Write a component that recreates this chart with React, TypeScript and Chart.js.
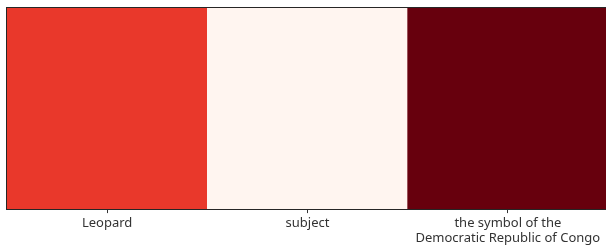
import React, { useEffect, useRef } from "react";
import { Chart, registerables } from "chart.js";

Chart.register(...registerables);

const categories: (string | string[])[] = [
  "Leopard",
  "subject",
  ["the symbol of the", "Democratic Republic of Congo"],
];
const values = [1, 1, 1];
const cellColors = ["#e9382b", "#fff5f0", "#67000d"];

const frame = {
  id: "frame",
  afterDatasetsDraw(chart: any) {
    const { ctx, chartArea } = chart;
    ctx.save();
    ctx.strokeStyle = "#262626";
    ctx.lineWidth = 1;
    ctx.strokeRect(
      Math.round(chartArea.left) - 0.5,
      Math.round(chartArea.top) - 0.5,
      Math.round(chartArea.right - chartArea.left) + 1,
      Math.round(chartArea.bottom - chartArea.top) + 1
    );
    ctx.restore();
  },
};

export default function App() {
  const ref = useRef<HTMLCanvasElement>(null);
  useEffect(() => {
    document.body.style.margin = "0";
    const chart = new Chart(ref.current!, {
      type: "bar",
      data: {
        labels: categories as any,
        datasets: [
          {
            data: values,
            backgroundColor: cellColors,
            borderWidth: 0,
            barPercentage: 1,
            categoryPercentage: 1,
          },
        ],
      },
      options: {
        responsive: false,
        animation: false,
        events: [],
        layout: { padding: { left: 7, top: 8, right: 2, bottom: 0 } },
        plugins: { legend: { display: false }, tooltip: { enabled: false } },
        scales: {
          x: {
            grid: {
              display: true,
              drawOnChartArea: false,
              drawTicks: true,
              tickLength: 4,
              offset: false,
              color: "#333",
            },
            border: { display: false },
            ticks: {
              color: "#333",
              padding: 3,
              maxRotation: 0,
              autoSkip: false,
              font: { family: "Noto Sans", size: 13, lineHeight: 1.15 },
            },
          },
          y: { display: false, min: 0, max: 1 },
        },
      },
      plugins: [frame],
    });
    return () => chart.destroy();
  }, []);
  return (
    <div style={{ width: 606, height: 249, overflow: "hidden", position: "relative" }}>
      <canvas ref={ref} width={610} height={249} style={{ display: "block" }} />
    </div>
  );
}
